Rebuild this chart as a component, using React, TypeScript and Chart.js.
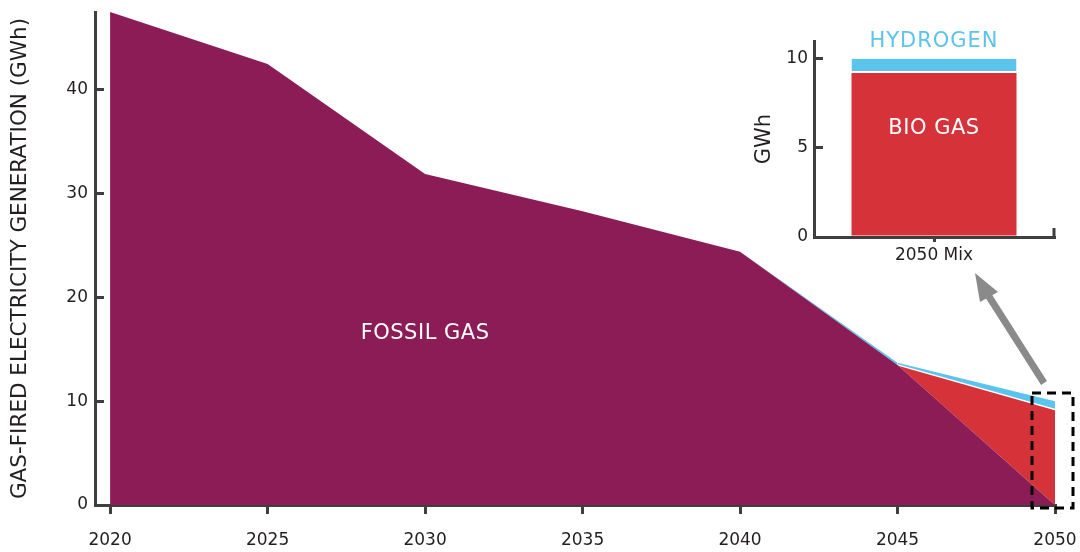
import React, { useEffect, useRef } from "react";
import { Chart, registerables } from "chart.js";

Chart.register(...registerables);

// ---- data ----
const years = [2020, 2025, 2030, 2035, 2040, 2045, 2050];
const fossilGas = [47.5, 42.5, 31.9, 28.3, 24.4, 13.5, 0];
const bioGas = [0, 0, 0, 0, 0, 0, 9.2];
const hydrogen = [0, 0, 0, 0, 0, 0.2, 0.8];
const xTickValues = [2020, 2025, 2030, 2035, 2040, 2045, 2050];
const yTickValues = [0, 10, 20, 30, 40];

const insetCategories = ["2050 Mix"];
const insetBioGas = [9.2];
const insetHydrogen = [0.8];
const insetTickValues = [0, 5, 10];

// ---- styles ----
const FONT = "'DejaVu Sans', sans-serif";
const TEXT = "#231f20";
const AXIS = "#3f3f3f";
const PURPLE = "#8b1c56";
const RED = "#d53239";
const BLUE = "#5bc4ec";

const zeroPadding = (s: any) => {
  s.paddingTop = 0;
  s.paddingBottom = 0;
  s.paddingLeft = 0;
  s.paddingRight = 0;
};

const mainLabels = {
  id: "mainLabels",
  afterDatasetsDraw(chart: any) {
    const { ctx, scales } = chart;
    ctx.save();
    ctx.fillStyle = "#ffffff";
    ctx.font = `21px ${FONT}`;
    (ctx as any).letterSpacing = "0.5px";
    ctx.textAlign = "center";
    ctx.textBaseline = "middle";
    ctx.fillText("FOSSIL GAS", scales.x.getPixelForValue(2030), scales.y.getPixelForValue(16.5));
    ctx.restore();
  },
};

const insetLabels = {
  id: "insetLabels",
  afterDatasetsDraw(chart: any) {
    const { ctx, scales } = chart;
    const cx = scales.x.getPixelForValue(0);
    ctx.save();
    ctx.textAlign = "center";
    ctx.textBaseline = "middle";
    ctx.font = `21px ${FONT}`;
    (ctx as any).letterSpacing = "1px";
    ctx.fillStyle = BLUE;
    ctx.fillText("HYDROGEN", cx, scales.y.getPixelForValue(10) - 17);
    (ctx as any).letterSpacing = "0.5px";
    ctx.fillStyle = "#ffffff";
    ctx.fillText("BIO GAS", cx, scales.y.getPixelForValue(6.1));
    ctx.restore();
  },
  afterDraw(chart: any) {
    const { ctx, chartArea } = chart;
    ctx.save();
    ctx.strokeStyle = AXIS;
    ctx.lineWidth = 3;
    ctx.beginPath();
    ctx.moveTo(chartArea.right, chartArea.bottom + 1);
    ctx.lineTo(chartArea.right, chartArea.bottom - 9);
    ctx.stroke();
    ctx.restore();
  },
};

export default function App() {
  const mainRef = useRef<HTMLCanvasElement>(null);
  const insetRef = useRef<HTMLCanvasElement>(null);

  useEffect(() => {
    const pts = (arr: number[]) => years.map((x, i) => ({ x, y: arr[i] }));

    const main = new Chart(mainRef.current!, {
      type: "line",
      data: {
        datasets: [
          {
            label: "Fossil gas",
            data: pts(fossilGas),
            backgroundColor: PURPLE,
            borderColor: PURPLE,
            borderWidth: 0,
            pointRadius: 0,
            fill: "origin",
            tension: 0,
          },
          {
            label: "Bio gas",
            data: pts(bioGas),
            backgroundColor: RED,
            borderColor: "rgba(0,0,0,0)",
            borderWidth: 1.5,
            pointRadius: 0,
            fill: "-1",
            tension: 0,
            segment: {
              borderColor: (c: any) => (c.p0DataIndex >= 5 ? "#ffffff" : "rgba(0,0,0,0)"),
            },
          } as any,
          {
            label: "Hydrogen",
            data: pts(hydrogen),
            backgroundColor: BLUE,
            borderColor: BLUE,
            borderWidth: 0,
            pointRadius: 0,
            fill: "-1",
            tension: 0,
          },
        ],
      },
      options: {
        responsive: false,
        animation: false,
        layout: { padding: { top: 12, right: 25, left: 0, bottom: 0 } },
        plugins: { legend: { display: false }, tooltip: { enabled: false } },
        scales: {
          x: {
            type: "linear",
            min: 2019.52,
            max: 2050,
            afterBuildTicks: (s: any) => {
              s.ticks = xTickValues.map((v) => ({ value: v }));
            },
            afterFit: (s: any) => {
              s.height = 47;
              zeroPadding(s);
            },
            grid: {
              display: true,
              drawOnChartArea: false,
              drawTicks: true,
              tickLength: 9,
              color: AXIS,
              lineWidth: 3,
            },
            border: { display: true, color: AXIS, width: 3 },
            ticks: {
              autoSkip: false,
              maxRotation: 0,
              padding: 16,
              color: TEXT,
              font: { family: FONT, size: 17 },
              callback: (v: any) => String(v),
            },
          },
          y: {
            type: "linear",
            stacked: true,
            min: 0,
            max: 47.5,
            afterBuildTicks: (s: any) => {
              s.ticks = yTickValues.map((v) => ({ value: v }));
            },
            afterFit: (s: any) => {
              s.width = 95;
              zeroPadding(s);
            },
            grid: {
              display: true,
              drawOnChartArea: false,
              drawTicks: true,
              tickLength: -9,
              color: AXIS,
              lineWidth: 3,
            },
            border: { display: true, color: AXIS, width: 3 },
            ticks: {
              padding: 16,
              color: TEXT,
              font: { family: FONT, size: 17 },
              callback: (v: any) => String(v),
            },
            title: {
              display: true,
              text: "GAS-FIRED ELECTRICITY GENERATION (GWh)",
              color: TEXT,
              font: { family: FONT, size: 21.5 },
              padding: { top: 8, bottom: 0 },
            },
          },
        },
      } as any,
      plugins: [mainLabels],
    });

    const inset = new Chart(insetRef.current!, {
      type: "bar",
      data: {
        labels: insetCategories,
        datasets: [
          {
            label: "Bio gas",
            data: insetBioGas,
            backgroundColor: RED,
            borderWidth: 0,
            barPercentage: 0.6875,
            categoryPercentage: 1,
          },
          {
            label: "Hydrogen",
            data: insetHydrogen,
            backgroundColor: BLUE,
            borderColor: "#ffffff",
            borderWidth: { top: 0, left: 0, right: 0, bottom: 2 },
            borderSkipped: false,
            barPercentage: 0.6875,
            categoryPercentage: 1,
          } as any,
        ],
      },
      options: {
        responsive: false,
        animation: false,
        layout: { padding: { top: 21, right: 16, left: 0, bottom: 0 } },
        plugins: { legend: { display: false }, tooltip: { enabled: false } },
        scales: {
          x: {
            stacked: true,
            afterFit: (s: any) => {
              s.height = 33;
              zeroPadding(s);
            },
            grid: {
              display: true,
              offset: false,
              drawOnChartArea: false,
              drawTicks: true,
              tickLength: 5,
              color: AXIS,
              lineWidth: 3,
            },
            border: { display: true, color: AXIS, width: 3 },
            ticks: {
              padding: 3,
              color: TEXT,
              font: { family: FONT, size: 17 },
            },
          },
          y: {
            stacked: true,
            min: 0,
            max: 11,
            afterBuildTicks: (s: any) => {
              s.ticks = insetTickValues.map((v) => ({ value: v }));
            },
            afterFit: (s: any) => {
              s.width = 74;
              zeroPadding(s);
            },
            grid: {
              display: true,
              drawOnChartArea: false,
              drawTicks: true,
              tickLength: -9,
              color: AXIS,
              lineWidth: 3,
            },
            border: { display: true, color: AXIS, width: 3 },
            ticks: {
              padding: 15,
              color: TEXT,
              font: { family: FONT, size: 17 },
              callback: (v: any) => String(v),
            },
            title: {
              display: true,
              text: "GWh",
              color: TEXT,
              font: { family: FONT, size: 21 },
              padding: { top: 12, bottom: 0 },
            },
          },
        },
      } as any,
      plugins: [insetLabels],
    });

    return () => {
      main.destroy();
      inset.destroy();
    };
  }, []);

  return (
    <div
      style={{
        position: "absolute",
        left: 0,
        top: 0,
        width: 1080,
        height: 552,
        background: "#ffffff",
        overflow: "hidden",
      }}
    >
      <canvas
        ref={mainRef}
        width={1080}
        height={552}
        style={{ position: "absolute", left: 0, top: 0, width: 1080, height: 552 }}
      />
      <canvas
        ref={insetRef}
        width={330}
        height={250}
        style={{ position: "absolute", left: 740, top: 20, width: 330, height: 250 }}
      />
      <svg
        width={1080}
        height={552}
        style={{ position: "absolute", left: 0, top: 0, pointerEvents: "none" }}
      >
        <line x1={1044} y1={383} x2={988} y2={295} stroke="#8a8a8a" strokeWidth={7} />
        <polygon points="975,273 998,292 980,302" fill="#8a8a8a" />
        <rect
          x={1032}
          y={393}
          width={41}
          height={115}
          fill="none"
          stroke="#000000"
          strokeWidth={3}
          strokeDasharray="9 6"
        />
      </svg>
    </div>
  );
}
